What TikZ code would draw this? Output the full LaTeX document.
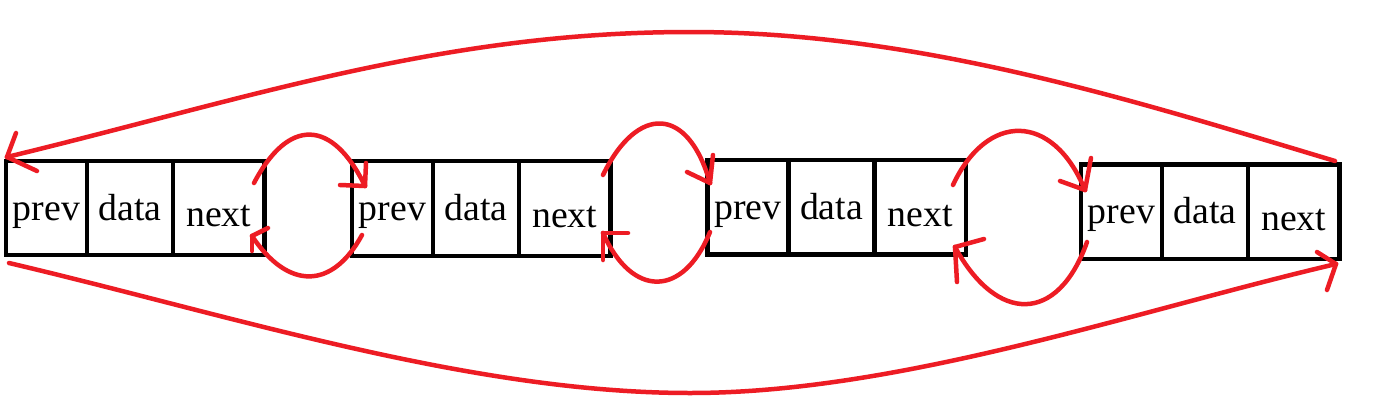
\documentclass[tikz,border=0pt]{standalone}
\usepackage{fontspec}
\setmainfont{Liberation Serif}
\definecolor{pred}{HTML}{ED1C24}
\begin{document}
\begin{tikzpicture}[x=0.02cm,y=-0.02cm,
  cell/.style={draw=black, line width=0.085cm, inner sep=0pt, outer sep=0pt,
    minimum height=1.89cm, anchor=west,
    font=\fontsize{21.5pt}{24pt}\selectfont, text height=0.54cm, text depth=0.06cm},
  wp/.style={cell, minimum width=1.62cm},
  wd/.style={cell, minimum width=1.72cm},
  wn/.style={cell, minimum width=1.83cm},
  link/.style={draw=pred, line width=0.09cm, line cap=round, line join=round}]
\fill[white] (0,0) rectangle (1394,403);
\useasboundingbox (0,0) rectangle (1394,403);

% list cells
\node[wp] (p1) at (6,208) {prev};
\node[wd] (d1) at (p1.east) {data};
\node[wn] (n1) at (d1.east) {\raisebox{-0.14cm}{next}};

\node[wp] (p2) at (352,208.5) {prev};
\node[wd] (d2) at (p2.east) {data};
\node[wn] (n2) at (d2.east) {\raisebox{-0.14cm}{next}};

\node[wp] (p3) at (707.5,207.25) {prev};
\node[wd] (d3) at (p3.east) {data};
\node[wn] (n3) at (d3.east) {\raisebox{-0.14cm}{next}};

\node[wp] (p4) at (1081,211.75) {prev};
\node[wd] (d4) at (p4.east) {data};
\node[wn] (n4) at (d4.east) {\raisebox{-0.14cm}{next}};

% connector end points
\coordinate (topS) at (1335,161);
\coordinate (topT) at (7,157);
\coordinate (botS) at (9,263);
\coordinate (botT) at (1336,264);
\coordinate (aS) at (254,183);  \coordinate (aT) at (365,186);
\coordinate (aS2) at (362,235); \coordinate (aT2) at (252,236);
\coordinate (bS) at (603,175);  \coordinate (bT) at (710,183);
\coordinate (bS2) at (710,232); \coordinate (bT2) at (603,233);
\coordinate (cS) at (953,185);  \coordinate (cT) at (1085,190);
\coordinate (cS2) at (1087,242); \coordinate (cT2) at (955,247);

% big arcs
\draw[link] (topS) .. controls (1135,101) and (920,32) .. (690,32)
                   .. controls (440,32) and (247,99) .. (topT);
\draw[link] (topT) -- +(9,-24);
\draw[link] (topT) -- +(30,14);

\draw[link] (botS) .. controls (230,315) and (470,393) .. (690,393)
                   .. controls (900,393) and (1135,311) .. (botT);
\draw[link] (botT) -- +(-19,-12);
\draw[link] (botT) -- +(-9,26);

% small loops
\draw[link] (aS) .. controls (288,118) and (332,118) .. (aT);
\draw[link] (aT) -- +(-25,-1);
\draw[link] (aT) -- +(1,-23);
\draw[link] (aS2) .. controls (332,290) and (288,290) .. (aT2);
\draw[link] (aT2) -- +(16,-8);
\draw[link] (aT2) -- +(0,15);

\draw[link] (bS) .. controls (637,105) and (688,105) .. (bT);
\draw[link] (bT) -- +(-23,-11);
\draw[link] (bT) -- +(3,-28);
\draw[link] (bS2) .. controls (683,298) and (632,298) .. (bT2);
\draw[link] (bT2) -- +(25,0);
\draw[link] (bT2) -- +(0,27);

\draw[link] (cS) .. controls (987,112) and (1053,112) .. (cT);
\draw[link] (cT) -- +(-25,-9);
\draw[link] (cT) -- +(6,-32);
\draw[link] (cS2) .. controls (1058,324) and (997,324) .. (cT2);
\draw[link] (cT2) -- +(29,-8);
\draw[link] (cT2) -- +(2,35);
\end{tikzpicture}
\end{document}
